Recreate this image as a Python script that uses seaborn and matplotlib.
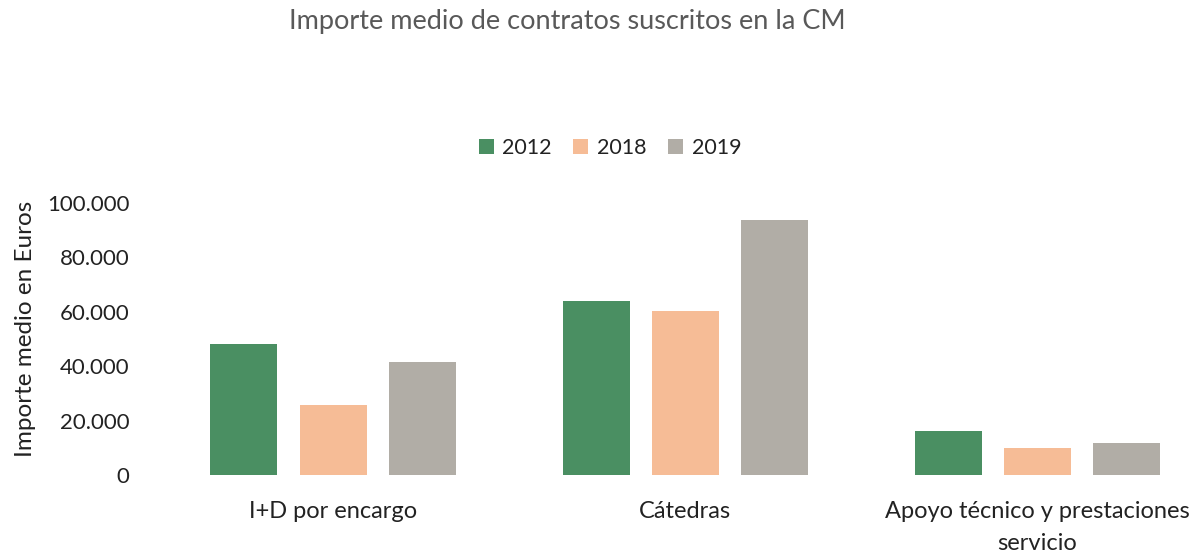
import matplotlib
matplotlib.use("Agg")
import matplotlib.pyplot as plt
import seaborn as sns
import pandas as pd
from matplotlib.patches import Patch

categories = ["I+D por encargo", "Cátedras", "Apoyo técnico y prestaciones\nservicio"]
years = ["2012", "2018", "2019"]
values_2012 = [48300, 64000, 16000]
values_2018 = [25600, 60300, 9800]
values_2019 = [41400, 93900, 11900]
y_ticks = [0, 20000, 40000, 60000, 80000, 100000]
y_tick_labels = ["0", "20.000", "40.000", "60.000", "80.000", "100.000"]

colors = ["#4A8F62", "#F6BC96", "#B1ADA6"]

df = pd.DataFrame({
    "categoria": categories * 3,
    "anio": [years[0]] * 3 + [years[1]] * 3 + [years[2]] * 3,
    "importe": values_2012 + values_2018 + values_2019,
})

sns.set_theme(style="white")
plt.rcParams["font.family"] = ["Lato", "DejaVu Sans"]

W, H = 1196, 555
fig = plt.figure(figsize=(W / 100, H / 100), dpi=100)
ax = fig.add_axes([157 / W, (H - 475) / H, 1039 / W, 272 / H])

sns.barplot(data=df, x="categoria", y="importe", hue="anio",
            palette=colors, width=0.76, gap=0.25, ax=ax,
            saturation=1, legend=False, edgecolor="none")

text_color = "#222222"
ax.set_xlim(-0.5, 2.45)
ax.set_ylim(0, 100000)
ax.set_yticks(y_ticks)
ax.set_yticklabels(y_tick_labels, fontsize=16, color=text_color)
ax.tick_params(axis="y", length=0, pad=20)
ax.tick_params(axis="x", length=0, pad=19)
for lbl in ax.get_xticklabels():
    lbl.set_fontsize(17)
    lbl.set_color(text_color)
    lbl.set_linespacing(1.6)
ax.set_xlabel("")
ax.set_ylabel("Importe medio en Euros", fontsize=17.5, color=text_color)
ax.yaxis.set_label_coords(-121 / 1039, 0.537)
for s in ax.spines.values():
    s.set_visible(False)
ax.grid(False)

fig.text(567 / W, 1 - 22 / H, "Importe medio de contratos suscritos en la CM",
         ha="center", va="center", fontsize=19.5, color="#595959")

handles = [Patch(facecolor=c, edgecolor="none") for c in colors]
fig.legend(handles, years, loc="center", bbox_to_anchor=(610 / W, 1 - 148 / H),
           ncol=3, frameon=False, fontsize=15.5, handlelength=0.7, handleheight=0.7,
           handletextpad=0.4, columnspacing=1.0, labelcolor=text_color)

fig.savefig("out.png", dpi=100)
